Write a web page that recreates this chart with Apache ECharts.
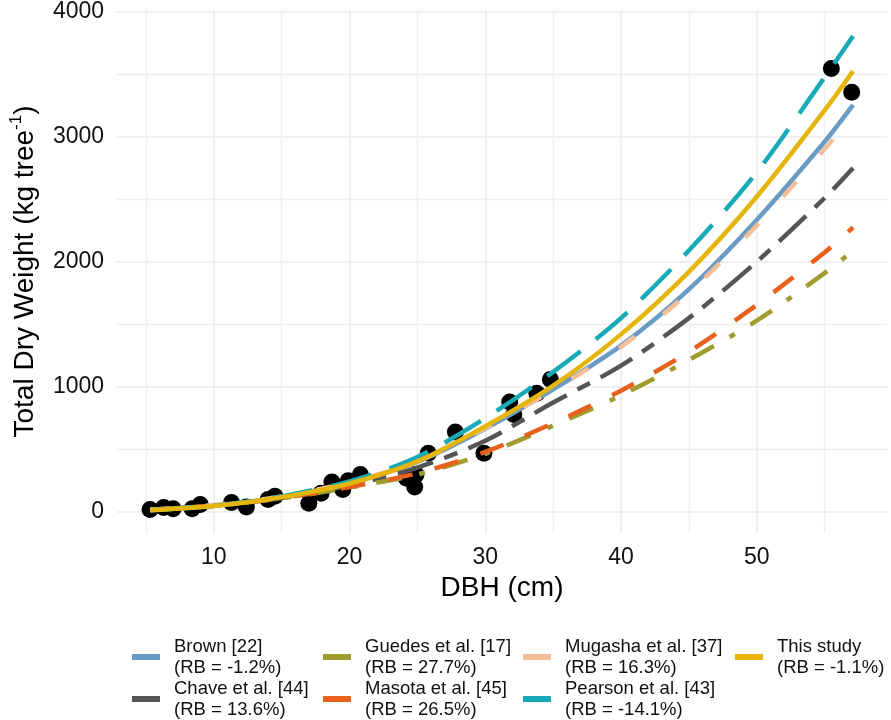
<!DOCTYPE html>
<html>
<head>
<meta charset="utf-8">
<script src="https://cdn.jsdelivr.net/npm/echarts@6/dist/echarts.min.js"></script>
<style>html,body{margin:0;padding:0;background:#fff;}#c{width:891px;height:720px;}</style>
</head>
<body>
<div id="c"></div>
<script>
// DBH grid for model predictions (cm)
const dbh = [5.3, 10, 15, 20, 25, 30, 35, 40, 45, 50, 55, 57.1];
// Predicted total dry weight (kg tree-1)
const brown    = [16, 50, 120, 232, 400, 665, 980, 1330, 1780, 2335, 2960, 3255];
const chave    = [16, 48, 112, 212, 355, 570, 875, 1170, 1550, 2000, 2510, 2750];
const guedes   = [18, 52, 110, 196, 300, 465, 690, 932, 1215, 1530, 1910, 2090];
const masota   = [18, 52, 112, 200, 310, 480, 710, 970, 1280, 1655, 2075, 2275];
const mugasha  = [18, 55, 125, 238, 405, 670, 975, 1320, 1755, 2290, 2900, 3170];
const pearson  = [14, 50, 125, 245, 440, 750, 1120, 1550, 2090, 2715, 3475, 3805];
const thisStudy= [14, 48, 118, 228, 405, 685, 1010, 1420, 1920, 2520, 3210, 3525];
// Observed trees
const obsDbh = [5.3, 6.3, 7.0, 8.4, 9.0, 11.3, 12.4, 14.0, 14.5, 17.0, 17.9, 18.7, 19.5, 19.9, 20.8, 24.2, 24.8, 24.9, 25.8, 27.8, 29.9, 31.8, 32.1, 33.8, 34.8, 55.5, 57.0];
const obsTdw = [20, 35, 25, 25, 60, 75, 40, 100, 125, 70, 150, 240, 180, 250, 300, 270, 200, 300, 470, 640, 470, 880, 780, 950, 1060, 3545, 3355];
// Legend labels
const names = ['Brown [22]', 'Chave et al. [44]', 'Guedes et al. [17]', 'Masota et al. [45]', 'Mugasha et al. [37]', 'Pearson et al. [43]', 'This study'];
const rbLabels = ['(RB = -1.2%)', '(RB = 13.6%)', '(RB = 27.7%)', '(RB = 26.5%)', '(RB = 16.3%)', '(RB = -14.1%)', '(RB = -1.1%)'];

const seriesValues = [brown, chave, guedes, masota, mugasha, pearson, thisStudy];
const colors = ['#6A9BC4', '#555555', '#A19C2E', '#E8601C', '#F3BF99', '#19AAB8', '#E6B50A'];
const dashes = ['solid', [14, 12, 37, 12], [6, 18, 26, 18], [25, 23], [20, 36], [42, 19], 'solid'];

const FONT = 'Liberation Sans, Arial, sans-serif';
const chart = echarts.init(document.getElementById('c'), null, {renderer: 'canvas'});

const series = [{
  type: 'scatter',
  name: 'obs',
  data: obsDbh.map((d, i) => [d, obsTdw[i]]),
  symbolSize: 17,
  itemStyle: {color: '#000', opacity: 1},
  z: 1,
  silent: true
}];
names.forEach((n, i) => {
  series.push({
    type: 'line',
    name: n,
    data: dbh.map((d, j) => [d, seriesValues[i][j]]),
    showSymbol: false,
    smooth: 0.3,
    color: colors[i],
    lineStyle: {color: colors[i], width: 4.5, type: dashes[i], cap: 'butt'},
    z: 2,
    silent: true
  });
});

const rbMap = {};
names.forEach((n, i) => { rbMap[n] = rbLabels[i]; });
const legendCols = [[names[0], names[1]], [names[2], names[3]], [names[4], names[5]], [names[6]]];
const legendLeft = [132, 323, 523, 735];
const legends = legendCols.map((col, k) => ({
  data: col,
  orient: 'vertical',
  left: legendLeft[k],
  top: 636,
  itemGap: 0,
  itemWidth: 28,
  itemHeight: 6,
  icon: 'rect',
  selectedMode: false,
  padding: 0,
  formatter: n => n + '\n' + rbMap[n],
  textStyle: {fontFamily: FONT, fontSize: 18.5, lineHeight: 21, color: '#111', padding: [0, 0, 0, 9]}
}));

const plain = v => String(Math.round(v));

chart.setOption({
  animation: false,
  backgroundColor: '#fff',
  grid: {left: 115, right: 4, top: 10, bottom: 187, containLabel: false},
  legend: legends,
  xAxis: {
    type: 'value',
    min: 2.87,
    max: 59.6,
    name: 'DBH (cm)',
    nameLocation: 'middle',
    nameGap: 40,
    nameTextStyle: {fontFamily: FONT, fontSize: 28, color: '#000'},
    axisLine: {show: false},
    axisTick: {show: false},
    axisLabel: {fontFamily: FONT, fontSize: 23, color: '#111', margin: 13, showMinLabel: false, showMaxLabel: false, formatter: plain},
    splitLine: {show: true, showMinLine: false, showMaxLine: false, lineStyle: {color: '#EBEBEB', width: 1.6}},
    minorTick: {show: false, splitNumber: 2},
    minorSplitLine: {show: true, lineStyle: {color: '#EFEFEF', width: 1.3}}
  },
  yAxis: {
    type: 'value',
    min: -168,
    max: 4013,
    name: 'Total Dry Weight (kg tree{sup|-1})',
    nameLocation: 'middle',
    nameRotate: 90,
    nameGap: 70,
    nameTextStyle: {
      fontFamily: FONT, fontSize: 28, color: '#000', lineHeight: 34,
      rich: {sup: {fontFamily: FONT, fontSize: 17, lineHeight: 17, verticalAlign: 'top', color: '#000'}}
    },
    axisLine: {show: false},
    axisTick: {show: false},
    axisLabel: {fontFamily: FONT, fontSize: 23, color: '#111', margin: 13, showMinLabel: false, showMaxLabel: false, formatter: plain},
    splitLine: {show: true, showMinLine: false, showMaxLine: false, lineStyle: {color: '#EBEBEB', width: 1.6}},
    minorTick: {show: false, splitNumber: 2},
    minorSplitLine: {show: true, lineStyle: {color: '#EFEFEF', width: 1.3}}
  },
  series: series
});
</script>
</body>
</html>
